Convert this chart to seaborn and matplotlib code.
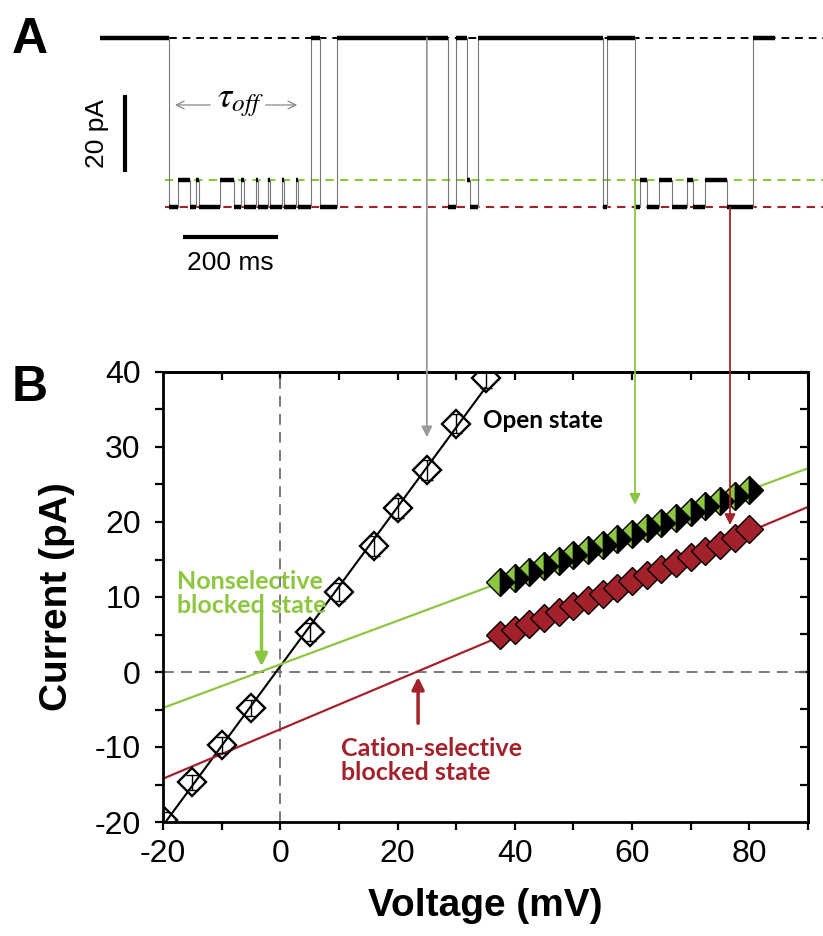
import numpy as np
import pandas as pd
import matplotlib
matplotlib.use("Agg")
import matplotlib.pyplot as plt
import seaborn as sns
from matplotlib.patches import ConnectionPatch
from matplotlib.transforms import blended_transform_factory

sns.set_theme(style="white")
plt.rcParams['font.family'] = ['Liberation Sans', 'DejaVu Sans']
plt.rcParams['mathtext.fontset'] = 'stix'
plt.rcParams['axes.unicode_minus'] = False
plt.rcParams['text.color'] = 'black'
plt.rcParams['axes.labelcolor'] = 'black'
plt.rcParams['xtick.color'] = 'black'
plt.rcParams['ytick.color'] = 'black'

GREEN = '#8dc63f'
RED = '#a3212a'
GRAY = '#9a9a9a'

# ---------------- Panel A: single-channel trace (idealised levels) ----------------
trace_bounds_ms = [0, 145, 164, 189, 202, 208, 253, 282, 297, 303, 328, 333, 354, 358, 383,
                   387, 413, 417, 444, 463, 499, 733, 749, 773, 779, 796, 1059, 1067, 1126,
                   1137, 1151, 1177, 1204, 1236, 1248, 1274, 1320, 1375, 1421]
trace_states = ['open', 'red', 'green', 'red', 'green', 'red', 'green', 'red', 'green', 'red',
                'green', 'red', 'green', 'red', 'green', 'red', 'green', 'red', 'open', 'red',
                'open', 'red', 'open', 'green', 'red', 'open', 'red', 'open', 'red', 'green',
                'red', 'green', 'red', 'green', 'red', 'green', 'red', 'open']
state_levels_pA = {'open': 0.0, 'green': -37.0, 'red': -44.0}

# ---------------- Panel B: I-V data ----------------
open_V = [-20, -15, -10, -5, 5, 10, 16, 20, 25, 30, 35]
open_I = [-19.7, -14.7, -9.7, -4.8, 5.3, 10.7, 16.8, 21.9, 26.9, 33.1, 39.2]
open_err = [1.0, 1.0, 1.1, 1.1, 1.2, 1.2, 1.3, 1.3, 1.3, 1.3, 1.4]

blocked_V = [37.5, 40, 42.5, 45, 47.5, 50, 52.5, 55, 57.5, 60, 62.5, 65, 67.5, 70, 72.5, 75, 77.5, 80]
nonsel_I = [12.0, 12.6, 13.3, 14.1, 14.8, 15.6, 16.3, 17.0, 17.7, 18.4, 19.2, 19.9, 20.6, 21.4,
            22.1, 22.8, 23.5, 24.3]
cation_I = [4.9, 5.6, 6.4, 7.2, 8.0, 8.8, 9.6, 10.4, 11.2, 12.1, 12.9, 13.7, 14.5, 15.4, 16.2,
            17.0, 17.9, 19.1]

W, H = 823, 936
fig = plt.figure(figsize=(W / 100, H / 100), dpi=100)

# ---------- Panel A ----------
axA = fig.add_axes([0, 1 - 300 / H, 1, 300 / H])
axA.set_xlim(-210.5, 1522)
axA.set_ylim(-68.05, 9.87)
axA.axis('off')

lv = [state_levels_pA[s] for s in trace_states]
tx, ty = [], []
for i, s in enumerate(trace_states):
    tx += [trace_bounds_ms[i], trace_bounds_ms[i + 1]]
    ty += [lv[i], lv[i]]
trace_df = pd.DataFrame({'t': tx, 'I': ty})

# reference dashed levels
axA.hlines(state_levels_pA['open'], 145, 1522, colors='black', lw=1.4, linestyles=(0, (4, 3)), zorder=1)
axA.hlines(state_levels_pA['green'], 137, 1522, colors=GREEN, lw=1.5, linestyles=(0, (4, 3)), zorder=1)
axA.hlines(state_levels_pA['red'], 137, 1522, colors=RED, lw=1.5, linestyles=(0, (4, 3)), zorder=1)

sns.lineplot(data=trace_df, x='t', y='I', sort=False, estimator=None, ax=axA,
             color='#777777', lw=0.8, zorder=2)
axA.hlines(lv, trace_bounds_ms[:-1], trace_bounds_ms[1:], colors='black', lw=3.2, zorder=3)

# scale bars
axA.plot([53, 53], [-14.8, -34.8], color='black', lw=3, solid_capstyle='butt')
axA.plot([175, 375], [-51.7, -51.7], color='black', lw=3, solid_capstyle='butt')
axA.text(-6, -24.8, '20 pA', rotation=90, ha='center', va='center', fontsize=19)
axA.text(275, -58.5, '200 ms', ha='center', va='center', fontsize=19)

# tau_off annotation
axA.text(295, -16.6, r'$\tau_{off}$', ha='center', va='center', fontsize=26)
axA.annotate('', xy=(152, -17.4), xytext=(238, -17.4),
             arrowprops=dict(arrowstyle='->', color='#888888', lw=0.9, mutation_scale=14))
axA.annotate('', xy=(421, -17.4), xytext=(343, -17.4),
             arrowprops=dict(arrowstyle='->', color='#888888', lw=0.9, mutation_scale=14))

# ---------- Panel B ----------
axB = fig.add_axes([163 / W, 1 - 822 / H, (808 - 163) / W, (822 - 372) / H])
axB.set_xlim(-20, 90)
axB.set_ylim(-20, 40)

axB.axhline(0, color='#6e6e6e', lw=1.3, ls=(0, (6, 4)), zorder=1)
axB.axvline(0, color='#6e6e6e', lw=1.3, ls=(0, (6, 4)), zorder=1)

# linear fits derived from the data
p_open = np.polyfit(open_V, open_I, 1)
p_non = np.polyfit(blocked_V, nonsel_I, 1)
p_cat = np.polyfit(blocked_V, cation_I, 1)
xo = np.array([open_V[0], open_V[-1]])
xf = np.array([-20, 90])
sns.lineplot(x=xo, y=np.polyval(p_open, xo), ax=axB, color='black', lw=1.5, zorder=2)
sns.lineplot(x=xf, y=np.polyval(p_non, xf), ax=axB, color=GREEN, lw=1.6, zorder=2)
sns.lineplot(x=xf, y=np.polyval(p_cat, xf), ax=axB, color=RED, lw=1.6, zorder=2)

# markers
sns.lineplot(x=open_V, y=open_I, ax=axB, marker='D', markersize=14.5, linestyle='',
             markerfacecolor='none', markeredgecolor='black', markeredgewidth=1.7,
             color='black', estimator=None, sort=False, zorder=4)
axB.errorbar(open_V, open_I, yerr=open_err, fmt='none', ecolor='black', elinewidth=1.0,
             capsize=4, capthick=1.0, zorder=5)
sns.lineplot(x=blocked_V, y=nonsel_I, ax=axB, marker='D', markersize=14.5, linestyle='',
             fillstyle='left', markerfacecolor=GREEN, markerfacecoloralt='black',
             markeredgecolor='black', markeredgewidth=1.0, color=GREEN,
             estimator=None, sort=False, zorder=4)
sns.lineplot(x=blocked_V, y=cation_I, ax=axB, marker='D', markersize=14.5, linestyle='',
             markerfacecolor=RED, markeredgecolor='black', markeredgewidth=1.0, color=RED,
             estimator=None, sort=False, zorder=4)

# axes styling
for sp in axB.spines.values():
    sp.set_linewidth(2)
    sp.set_color('black')
axB.set_xticks([-20, 0, 20, 40, 60, 80])
axB.set_xticks(np.arange(-10, 91, 20), minor=True)
axB.set_yticks([-20, -10, 0, 10, 20, 30, 40])
axB.set_yticks(np.arange(-15, 40, 10), minor=True)
axB.tick_params(axis='both', which='both', direction='out', length=6, width=1.6,
                color='black', labelsize=23, labelcolor='black')
axB.tick_params(axis='y', which='major', pad=10)
axB.tick_params(axis='x', which='major', pad=6)
axB.tick_params(bottom=True, left=True, which='both')
axB.grid(False)

secx = axB.secondary_xaxis('top')
secx.set_xticks(np.arange(-10, 91, 10))
secx.tick_params(direction='in', length=6, width=1.6, labeltop=False)
secx.spines['top'].set_linewidth(2)
secy = axB.secondary_yaxis('right')
secy.set_yticks(np.arange(-15, 41, 5))
secy.tick_params(direction='in', length=6, width=1.6, labelright=False)
secy.spines['right'].set_linewidth(2)

axB.set_xlabel('Voltage (mV)', fontsize=28, fontweight='bold', labelpad=14)
axB.set_ylabel('Current (pA)', fontsize=28, fontweight='bold', labelpad=14)

# state labels and small arrows
lab_font = ['Lato', 'DejaVu Sans']
axB.text(34.5, 33.5, 'Open state', fontsize=17.5, fontweight='bold', family=lab_font,
         ha='left', va='center', color='black')
axB.text(-17.6, 10.5, 'Nonselective\nblocked state', fontsize=18, fontweight='bold',
         family=lab_font, ha='left', va='center', color=GREEN, linespacing=1.05)
axB.text(10.4, -11.8, 'Cation-selective\nblocked state', fontsize=18, fontweight='bold',
         family=lab_font, ha='left', va='center', color=RED, linespacing=1.05)
axB.annotate('', xy=(-3.2, 0.4), xytext=(-3.2, 8.6),
             arrowprops=dict(arrowstyle='-|>', color=GREEN, lw=2.5, mutation_scale=18))
axB.annotate('', xy=(23.5, -0.3), xytext=(23.5, -7.2),
             arrowprops=dict(arrowstyle='-|>', color=RED, lw=2.5, mutation_scale=18))

# connecting arrows from trace (A) to I-V points (B)
conn = [(25, state_levels_pA['open'], 31.3, GRAY),
        (60.5, state_levels_pA['green'], 22.3, GREEN),
        (76.7, state_levels_pA['red'], 19.6, RED)]
trA = blended_transform_factory(axB.transData, axA.transData)
for v, ya, yb, c in conn:
    cp = ConnectionPatch(xyA=(v, ya), coordsA=trA, xyB=(v, yb), coordsB=axB.transData,
                         arrowstyle='-|>', color=c, lw=1.3, mutation_scale=16, zorder=6)
    fig.add_artist(cp)

fig.text(12 / W, 1 - 40 / H, 'A', fontsize=36, fontweight='bold', ha='left', va='center')
fig.text(12 / W, 1 - 388 / H, 'B', fontsize=36, fontweight='bold', ha='left', va='center')

fig.savefig('out.png', dpi=100)
